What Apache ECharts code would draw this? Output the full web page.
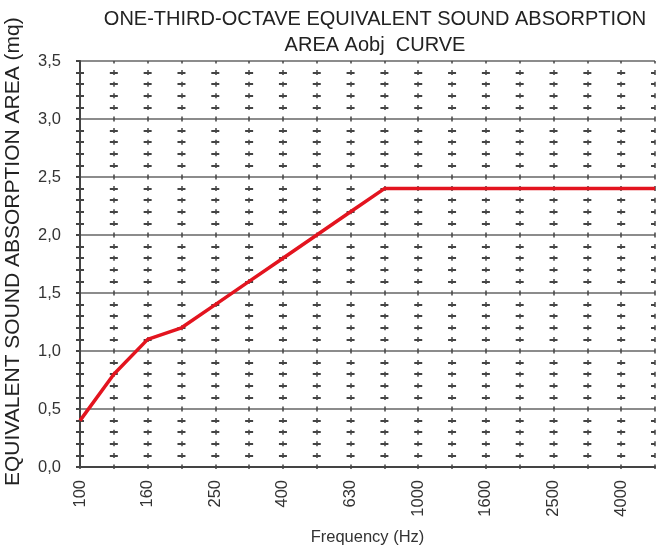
<!DOCTYPE html>
<html>
<head>
<meta charset="utf-8">
<script src="https://cdn.jsdelivr.net/npm/echarts@6/dist/echarts.min.js"></script>
<style>html,body{margin:0;padding:0;background:#fff}#c{width:660px;height:547px}</style>
</head>
<body>
<div id="c"></div>
<script>
// Data
var frequencies = ['100','125','160','200','250','315','400','500','630','800','1000','1250','1600','2000','2500','3150','4000','5000'];
var absorptionArea = [0.4, 0.8, 1.1, 1.2, 1.4, 1.6, 1.8, 2.0, 2.2, 2.4, 2.4, 2.4, 2.4, 2.4, 2.4, 2.4, 2.4, 2.4];
var yMin = 0, yMax = 3.5, yStep = 0.5;
var titleText = 'ONE-THIRD-OCTAVE EQUIVALENT SOUND ABSORPTION\nAREA Aobj  CURVE';
var yName = 'EQUIVALENT SOUND ABSORPTION AREA (mq)';
var xName = 'Frequency (Hz)';

var W = 660, H = 547;
var gl = 80, gr = 5, gt = 61, gb = 80;
var gw = W - gl - gr, gh = H - gt - gb;
var catStep = gw / (frequencies.length - 1);
var minorStep = gh / ((yMax - yMin) / 0.1);
var hDash = 8, vDash = 5;
var FONT = "'Liberation Sans Narrow', 'Liberation Sans', Arial, sans-serif";
var LFONT = "'Liberation Sans', Arial, sans-serif";

var chart = echarts.init(document.getElementById('c'), null, {renderer: 'canvas'});
chart.setOption({
  animation: false,
  backgroundColor: '#fff',
  title: {
    text: titleText,
    left: 370, top: 1, textAlign: 'center',
    textStyle: {fontFamily: FONT, fontSize: 20, fontWeight: 'normal', color: '#222', lineHeight: 26}
  },
  graphic: [{
    type: 'text', x: 13, y: 486, rotation: Math.PI / 2,
    style: {text: yName, fontFamily: FONT, fontSize: 21, fill: '#222', align: 'left', verticalAlign: 'middle'}
  }],
  grid: {left: gl, right: gr, top: gt, bottom: gb, containLabel: false, outerBoundsMode: 'none'},
  xAxis: {
    type: 'category', data: frequencies, boundaryGap: false,
    name: xName, nameLocation: 'middle', nameGap: 62,
    nameTextStyle: {fontFamily: LFONT, fontSize: 16.5, color: '#333'},
    axisLine: {lineStyle: {color: '#444', width: 2}},
    axisTick: {show: true, length: 2, alignWithLabel: true, interval: 0, lineStyle: {color: '#444', width: 1.5}},
    axisLabel: {interval: 1, rotate: 90, margin: 13, fontFamily: LFONT, fontSize: 16.5, color: '#333'},
    splitLine: {show: true, interval: 0, lineStyle: {color: '#444', width: 1.5, type: [vDash, minorStep - vDash], dashOffset: vDash / 2}}
  },
  yAxis: {
    type: 'value', min: yMin, max: yMax, interval: yStep,
    axisLine: {show: true, lineStyle: {color: '#444', width: 2}},
    axisTick: {show: true, length: 4, lineStyle: {color: '#444', width: 2}},
    minorTick: {show: true, splitNumber: 5, length: 4, lineStyle: {color: '#444', width: 2}},
    axisLabel: {margin: 19, fontFamily: LFONT, fontSize: 16.5, color: '#333',
      formatter: function (v) { return v.toFixed(1).replace('.', ','); }},
    splitLine: {show: true, lineStyle: {color: '#8c8c8c', width: 2}},
    minorSplitLine: {show: true, lineStyle: {color: '#444', width: 2, type: [hDash, catStep - hDash], dashOffset: hDash / 2}}
  },
  series: [{
    type: 'line', data: absorptionArea, symbol: 'none', z: 5,
    lineStyle: {color: '#e3141f', width: 3.5}
  }]
});
</script>
</body>
</html>
